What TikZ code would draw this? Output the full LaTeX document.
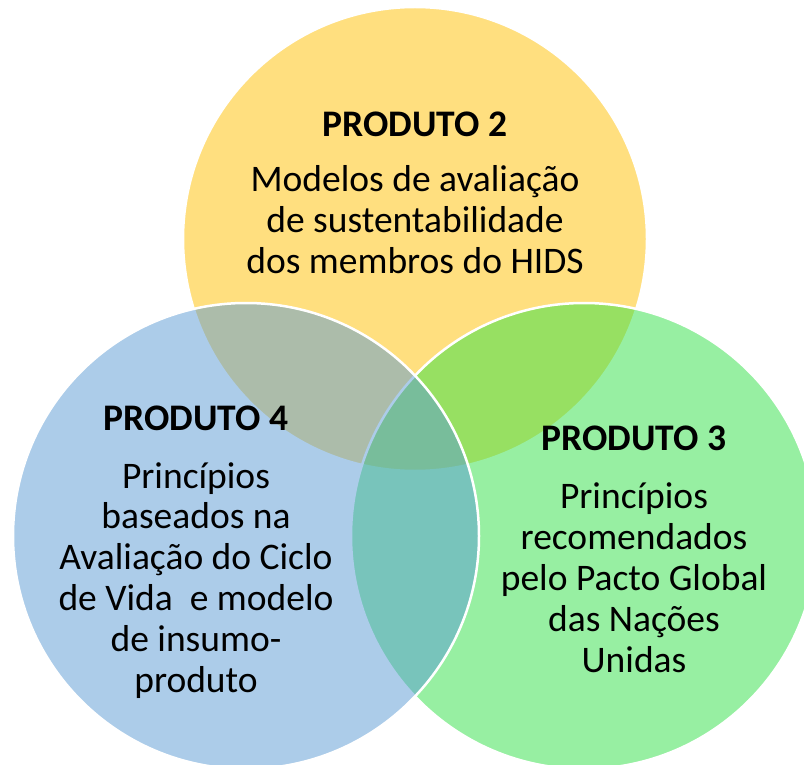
\documentclass[tikz,border=0pt]{standalone}
\usepackage{fontspec}
\setmainfont{Carlito}
\definecolor{cyel}{RGB}{255,192,0}
\definecolor{cgrn}{RGB}{49,225,71}
\definecolor{cblu}{RGB}{91,155,213}
\begin{document}
\begin{tikzpicture}[x=1pt,y=-1pt,
  venn/.style={fill opacity=0.5, draw=white, draw opacity=1, line width=2.5pt},
  ttl/.style={font=\fontsize{37.5}{40.5}\selectfont\bfseries, anchor=base, inner sep=0pt},
  bdy/.style={font=\fontsize{37.5}{40.8}\selectfont, align=center, anchor=base, inner sep=0pt}]
\useasboundingbox (0,0) rectangle (804,765);
\fill[white] (0,0) rectangle (804,765);
\begin{scope}
\clip (0,0) rectangle (804,765);
\path[venn, fill=cyel] (415,239) circle (232pt);
\path[venn, fill=cgrn] (584,536) circle (233pt);
\path[venn, fill=cblu] (246,536) circle (233pt);
\end{scope}
\node[ttl] (t2) at (415,137) {PRODUTO 2};
\node[bdy] (b2) at (415,273) {Modelos de avaliação\\de sustentabilidade\\dos membros do HIDS};
\node[ttl] (t4) at (196,430) {PRODUTO 4};
\node[bdy] (b4) at (196,692) {Princípios\\baseados na\\Avaliação do Ciclo\\de Vida~ e modelo\\de insumo-\\produto};
\node[ttl] (t3) at (634,450) {PRODUTO 3};
\node[bdy] (b3) at (634,672) {Princípios\\recomendados\\pelo Pacto Global\\das Nações\\Unidas};
\end{tikzpicture}
\end{document}
